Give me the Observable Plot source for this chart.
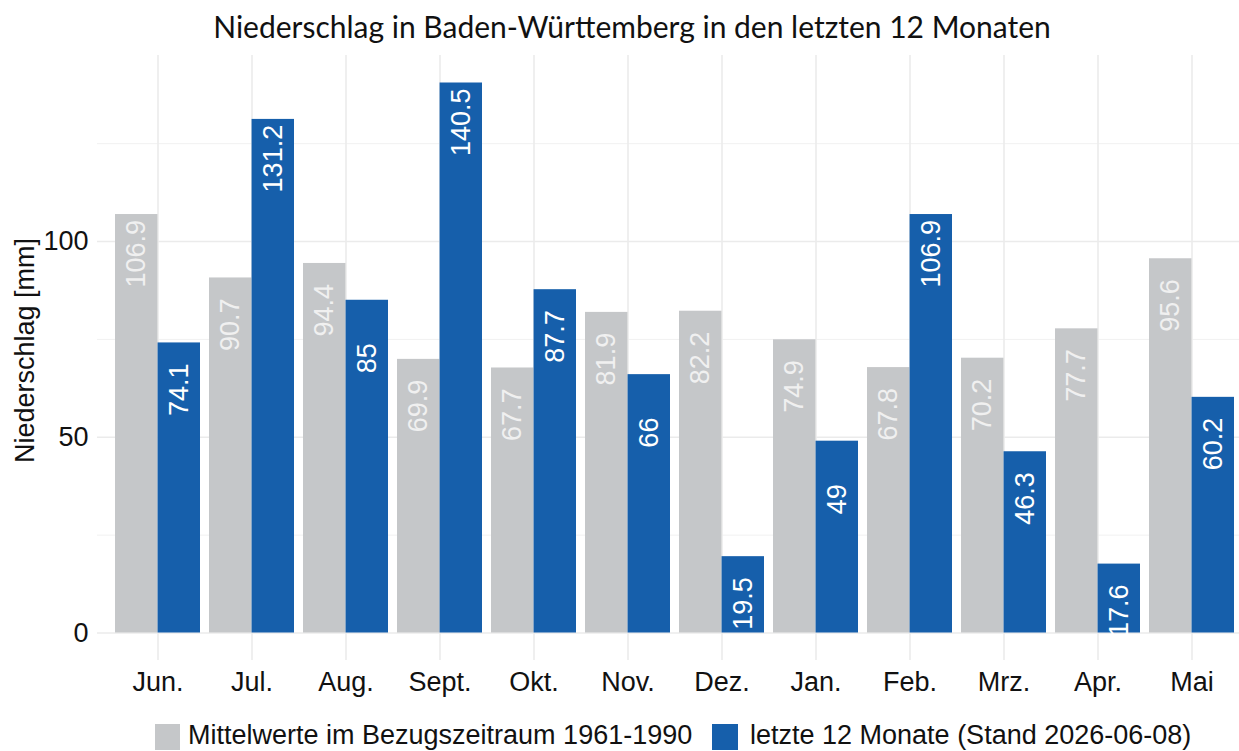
<!DOCTYPE html>
<html>
<head>
<meta charset="utf-8">
<script src="https://cdn.jsdelivr.net/npm/d3@7"></script>
<script src="https://cdn.jsdelivr.net/npm/@observablehq/plot@0.6"></script>
<style>
  html, body { margin: 0; padding: 0; background: #fff; overflow: hidden; }
  #wrap { width: 1239px; height: 751px; position: relative; overflow: hidden; }
  #title { height: 50px; line-height: 50px; box-sizing: border-box; width: 1239px; padding-left: 25px;
           text-align: center; font-family: Lato, "Open Sans", sans-serif; font-size: 30px; color: #111;
           position: relative; top: 1px; white-space: nowrap; }
  #chart { height: 661px; }
  #legend { position: relative; height: 40px; font-family: "Liberation Sans", Arial, sans-serif; font-size: 27px; color: #111; }
  #legend .sw { position: absolute; top: 13px; height: 26px; }
  #legend .lt { position: absolute; top: 11px; line-height: 27px; white-space: nowrap; }
</style>
</head>
<body>
<div id="wrap">
  <div id="title">Niederschlag in Baden-Württemberg in den letzten 12 Monaten</div>
  <div id="chart"></div>
  <div id="legend"></div>
</div>
<script>
const months = ["Jun.", "Jul.", "Aug.", "Sept.", "Okt.", "Nov.", "Dez.", "Jan.", "Feb.", "Mrz.", "Apr.", "Mai"];
const meanValues = [106.9, 90.7, 94.4, 69.9, 67.7, 81.9, 82.2, 74.9, 67.8, 70.2, 77.7, 95.6];
const lastValues = [74.1, 131.2, 85, 140.5, 87.7, 66, 19.5, 49, 106.9, 46.3, 17.6, 60.2];
const seriesNames = ["Mittelwerte im Bezugszeitraum 1961-1990", "letzte 12 Monate (Stand 2026-06-08)"];
const seriesColors = ["#c5c7c9", "#165fab"];
const majorTicks = [0, 50, 100];
const minorTicks = [25, 75, 125];

const rows = months.map((m, i) => ({month: m, mean: meanValues[i], last: lastValues[i]}));

const xRange = [97, 1251];
const padInner = 0.1, padOuter = 0.15;
const step = (xRange[1] - xRange[0]) / (months.length - padInner + 2 * padOuter);
const bw = step * (1 - padInner);

const font = "'Liberation Sans', Arial, sans-serif";

const plot = Plot.plot({
  width: 1239,
  height: 661,
  marginTop: 5,
  marginBottom: 51,
  marginLeft: 97,
  marginRight: 0,
  style: {fontFamily: font, fontSize: "27px", color: "#111", background: "#fff"},
  x: {type: "band", domain: months, range: xRange, paddingInner: padInner, paddingOuter: padOuter, align: 0.5, label: null},
  y: {domain: [-7.025, 147.525], label: null},
  marks: [
    Plot.gridY(minorTicks, {stroke: "#f1f1f1", strokeOpacity: 1, strokeWidth: 1}),
    Plot.gridY(majorTicks, {stroke: "#ebebeb", strokeOpacity: 1, strokeWidth: 1.6}),
    Plot.gridX({stroke: "#ebebeb", strokeOpacity: 1, strokeWidth: 1.6}),
    Plot.barY(rows, {x: "month", y: "mean", fill: seriesColors[0], insetLeft: 0, insetRight: bw / 2}),
    Plot.barY(rows, {x: "month", y: "last", fill: seriesColors[1], insetLeft: bw / 2, insetRight: 0}),
    Plot.text(rows, {x: "month", y: "mean", text: d => String(d.mean), rotate: -90, textAnchor: "start",
      dx: -bw / 4, dy: 73, fill: "#f0f0f0", fontSize: 27}),
    Plot.text(rows, {x: "month", y: "last", text: d => String(d.last), rotate: -90, textAnchor: "start",
      dx: bw / 4, dy: 73, fill: "#ffffff", fontSize: 27}),
    Plot.axisY(majorTicks, {tickSize: 0, tickPadding: 9, fontSize: 27, fill: "#111", label: null}),
    Plot.axisX({tickSize: 0, tickPadding: 11, fontSize: 27, fill: "#111", label: null}),
    Plot.text(["Niederschlag [mm]"], {frameAnchor: "left", rotate: -90, dx: -72, dy: -7.5, fontSize: 27, fill: "#111", textAnchor: "middle"})
  ]
});
document.getElementById("chart").appendChild(plot);

const legend = document.getElementById("legend");
const legendItems = [
  {swLeft: 155, swWidth: 25, textLeft: 188},
  {swLeft: 712, swWidth: 26, textLeft: 750}
];
legendItems.forEach((it, i) => {
  const sw = document.createElement("div");
  sw.className = "sw";
  sw.style.left = it.swLeft + "px";
  sw.style.width = it.swWidth + "px";
  sw.style.background = seriesColors[i];
  legend.appendChild(sw);
  const t = document.createElement("div");
  t.className = "lt";
  t.style.left = it.textLeft + "px";
  t.textContent = seriesNames[i];
  legend.appendChild(t);
});
</script>
</body>
</html>
